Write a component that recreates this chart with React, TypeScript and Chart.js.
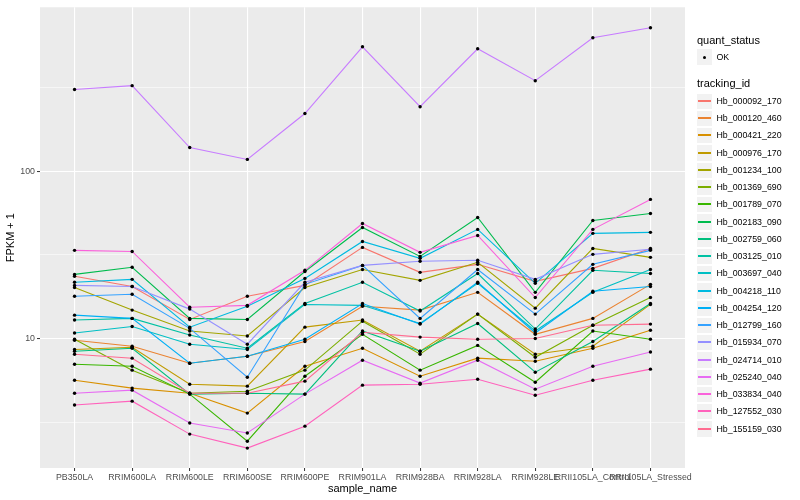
import React, { useEffect, useRef } from "react";
import { Chart, registerables } from "chart.js";

Chart.register(...registerables);

const FONT = "'Liberation Sans', Arial, Helvetica, sans-serif";

const samples = [
  "PB350LA",
  "RRIM600LA",
  "RRIM600LE",
  "RRIM600SE",
  "RRIM600PE",
  "RRIM901LA",
  "RRIM928BA",
  "RRIM928LA",
  "RRIM928LE",
  "RRII105LA_Control",
  "RRII105LA_Stressed",
];

const trackingIds = [
  "Hb_000092_170",
  "Hb_000120_460",
  "Hb_000421_220",
  "Hb_000976_170",
  "Hb_001234_100",
  "Hb_001369_690",
  "Hb_001789_070",
  "Hb_002183_090",
  "Hb_002759_060",
  "Hb_003125_010",
  "Hb_003697_040",
  "Hb_004218_110",
  "Hb_004254_120",
  "Hb_012799_160",
  "Hb_015934_070",
  "Hb_024714_010",
  "Hb_025240_040",
  "Hb_033834_040",
  "Hb_127552_030",
  "Hb_155159_030",
];

const seriesColors = [
  "#F8766D", "#EA8331", "#D89000", "#C09B00", "#A3A500",
  "#7CAE00", "#39B600", "#00BB4E", "#00BF7D", "#00C1A3",
  "#00BFC4", "#00BAE0", "#00B0F6", "#35A2FF", "#9590FF",
  "#C77CFF", "#E76BF3", "#FA62DB", "#FF62BC", "#FF6C91",
];

// FPKM + 1 values, one array per tracking id, in sample order
const hb000092_170 = [23.6, 20.5, 13.0, 17.9, 20.8, 35.1, 24.9, 27.8, 22.0, 26.3, 34.6];
const hb000120_460 = [9.77, 9.0, 7.12, 7.84, 9.6, 15.6, 14.8, 18.9, 10.6, 13.2, 21.1];
const hb000421_220 = [5.63, 5.05, 4.71, 3.58, 6.83, 8.75, 5.95, 7.63, 7.32, 8.75, 11.2];
const hb000976_170 = [8.6, 8.87, 5.33, 5.19, 11.7, 12.9, 8.4, 14.0, 8.06, 9.0, 16.0];
const hb001234_100 = [20.2, 14.8, 11.1, 10.35, 20.2, 25.9, 22.3, 28.6, 15.2, 34.6, 30.6];
const hb001369_690 = [9.9, 6.47, 4.71, 4.84, 6.47, 12.7, 8.06, 14.0, 7.73, 12.0, 17.6];
const hb001789_070 = [7.02, 6.83, 4.65, 2.43, 5.95, 10.6, 6.47, 9.1, 5.48, 11.1, 9.9];
const hb002183_090 = [24.2, 26.7, 13.2, 13.0, 25.2, 46.2, 31.0, 53.0, 18.9, 50.9, 56.0];
const hb002759_060 = [8.4, 8.75, 4.65, 4.71, 4.65, 11.1, 8.4, 12.3, 6.29, 9.6, 16.2];
const hb003125_010 = [12.9, 13.2, 10.5, 8.75, 16.2, 21.7, 14.6, 24.5, 11.4, 25.6, 24.5];
const hb003697_040 = [10.8, 11.8, 9.25, 8.6, 16.0, 15.8, 12.3, 21.4, 11.1, 18.9, 25.9];
const hb004218_110 = [21.7, 22.6, 11.7, 15.6, 22.9, 38.1, 30.2, 45.0, 21.4, 42.6, 43.2];
const hb004254_120 = [13.8, 13.2, 7.12, 7.84, 9.9, 16.2, 12.2, 21.7, 10.8, 19.2, 20.5];
const hb012799_160 = [17.9, 18.4, 11.5, 5.87, 21.1, 27.4, 13.2, 25.9, 14.0, 27.8, 33.7];
const hb015934_070 = [20.8, 20.5, 15.0, 9.25, 21.7, 27.4, 29.0, 29.4, 22.6, 31.9, 34.2];
const hb024714_010 = [309, 326, 139, 118, 222, 557, 244, 542, 349, 631, 724];
const hb025240_040 = [4.71, 4.91, 3.12, 2.72, 4.65, 7.42, 5.41, 7.42, 4.98, 6.83, 8.3];
const hb033834_040 = [33.7, 33.2, 15.4, 15.8, 25.6, 48.8, 32.8, 41.4, 17.6, 45.0, 68.0];
const hb127552_030 = [4.0, 4.22, 2.68, 2.21, 2.99, 5.26, 5.33, 5.71, 4.58, 5.63, 6.56];
const hb155159_030 = [8.06, 7.63, 4.71, 4.71, 5.56, 10.9, 10.2, 9.9, 10.0, 12.0, 12.2];

const seriesValues = [
  hb000092_170, hb000120_460, hb000421_220, hb000976_170, hb001234_100,
  hb001369_690, hb001789_070, hb002183_090, hb002759_060, hb003125_010,
  hb003697_040, hb004218_110, hb004254_120, hb012799_160, hb015934_070,
  hb024714_010, hb025240_040, hb033834_040, hb127552_030, hb155159_030,
];

// y grid: majors labelled, minors between them (log midpoints)
const yGridValues = [3.1623, 10, 31.623, 100, 316.23];
const yTickLabels: Record<string, string> = { "10": "10", "100": "100" };

const panelBg = {
  id: "panelBg",
  beforeDraw(chart: any) {
    const { ctx, chartArea: a } = chart;
    ctx.save();
    ctx.fillStyle = "#EBEBEB";
    ctx.fillRect(a.left, a.top, a.right - a.left, a.bottom - a.top);
    ctx.restore();
  },
};

function LegendPanel() {
  const pitch = 17.25;
  const boxStyle = (top: number, h: number): React.CSSProperties => ({
    position: "absolute",
    left: 696,
    top,
    width: 17,
    height: h,
    background: "#F2F2F2",
    border: "1px solid #FFFFFF",
    boxSizing: "border-box",
  });
  const textStyle = (centerY: number, size: number): React.CSSProperties => ({
    position: "absolute",
    top: centerY - size * 0.6,
    height: size * 1.2,
    lineHeight: `${size * 1.2}px`,
    fontSize: size,
    fontFamily: FONT,
    color: "#000",
    whiteSpace: "nowrap",
  });
  return (
    <>
      <div style={{ ...textStyle(40.5, 11), left: 697 }}>quant_status</div>
      <div style={boxStyle(48, 18)}>
        <div
          style={{
            position: "absolute",
            left: 6,
            top: 6.5,
            width: 3.4,
            height: 3.4,
            borderRadius: "50%",
            background: "#000",
          }}
        />
      </div>
      <div style={{ ...textStyle(57.3, 8.8), left: 716.5 }}>OK</div>
      <div style={{ ...textStyle(84, 11), left: 697 }}>tracking_id</div>
      {trackingIds.map((id, i) => {
        const top = Math.round(92.5 + pitch * i);
        const next = Math.round(92.5 + pitch * (i + 1));
        const h = next - top;
        return (
          <React.Fragment key={id}>
            <div style={boxStyle(top, h)}>
              <div
                style={{
                  position: "absolute",
                  left: 1,
                  right: 1,
                  top: Math.floor(h / 2) - 2,
                  height: 2,
                  background: seriesColors[i],
                }}
              />
            </div>
            <div style={{ ...textStyle(92.5 + pitch * i + pitch / 2, 8.8), left: 716.5 }}>{id}</div>
          </React.Fragment>
        );
      })}
    </>
  );
}

export default function App() {
  const canvasRef = useRef<HTMLCanvasElement | null>(null);

  useEffect(() => {
    const canvas = canvasRef.current;
    if (!canvas) return;

    const lineSets = seriesValues.map((vals, i) => ({
      type: "line" as const,
      label: trackingIds[i],
      data: vals.map((v, j) => ({ x: j, y: v })),
      borderColor: seriesColors[i],
      backgroundColor: seriesColors[i],
      borderWidth: 1.1,
      pointRadius: 0,
      fill: false,
      tension: 0,
      order: 100 - i,
    }));
    const pointSets = seriesValues.map((vals, i) => ({
      type: "line" as const,
      label: trackingIds[i] + " OK",
      data: vals.map((v, j) => ({ x: j, y: v })),
      showLine: false,
      borderColor: "#000000",
      backgroundColor: "#000000",
      pointRadius: 1.7,
      pointBorderWidth: 0,
      order: 0,
    }));

    const chart = new Chart(canvas, {
      type: "line",
      data: { datasets: [...lineSets, ...pointSets] as any },
      options: {
        animation: false,
        responsive: false,
        devicePixelRatio: window.devicePixelRatio || 1,
        layout: { padding: { top: 5, right: 115, left: 0, bottom: 0 } },
        plugins: {
          legend: { display: false },
          tooltip: { enabled: false },
        },
        scales: {
          x: {
            type: "linear",
            min: -0.6,
            max: 10.6,
            afterBuildTicks: (s: any) => {
              s.ticks = samples.map((_, i) => ({ value: i }));
            },
            afterFit: (s: any) => {
              s.height = 32;
            },
            ticks: {
              autoSkip: false,
              maxRotation: 0,
              minRotation: 0,
              padding: 1,
              color: "#4D4D4D",
              font: { family: FONT, size: 8.8 },
              callback: (v: any) => samples[Math.round(Number(v))] ?? "",
            },
            grid: {
              color: "#FFFFFF",
              lineWidth: 1.1,
              tickColor: "#333333",
              tickLength: 3,
              tickWidth: 1,
            },
            border: { display: false },
            title: {
              display: true,
              text: "sample_name",
              color: "#000000",
              font: { family: FONT, size: 11 },
              padding: { top: 0, bottom: 4 },
            },
          },
          y: {
            type: "logarithmic",
            min: 1.68,
            max: 960,
            afterBuildTicks: (s: any) => {
              s.ticks = yGridValues.map((v) => ({ value: v }));
            },
            afterFit: (s: any) => {
              s.width = 40;
            },
            ticks: {
              autoSkip: false,
              padding: 2,
              color: "#4D4D4D",
              font: { family: FONT, size: 8.8 },
              callback: (v: any) => yTickLabels[String(v)] ?? "",
            },
            grid: {
              color: "#FFFFFF",
              lineWidth: (c: any) => (c.index === 1 || c.index === 3 ? 1.1 : 0.55),
              tickColor: (c: any) =>
                c.index === 1 || c.index === 3 ? "#333333" : "rgba(0,0,0,0)",
              tickLength: 3,
              tickWidth: 1,
            },
            border: { display: false },
            title: {
              display: true,
              text: "FPKM + 1",
              color: "#000000",
              font: { family: FONT, size: 11 },
              padding: { top: 4, bottom: 0 },
            },
          },
        },
      },
      plugins: [panelBg],
    });

    return () => chart.destroy();
  }, []);

  return (
    <div
      style={{
        position: "fixed",
        left: 0,
        top: 0,
        width: 800,
        height: 500,
        background: "#FFFFFF",
        overflow: "hidden",
      }}
    >
      <canvas
        ref={canvasRef}
        width={800}
        height={500}
        style={{ position: "absolute", left: 0, top: 0, width: 800, height: 500 }}
      />
      <LegendPanel />
    </div>
  );
}
